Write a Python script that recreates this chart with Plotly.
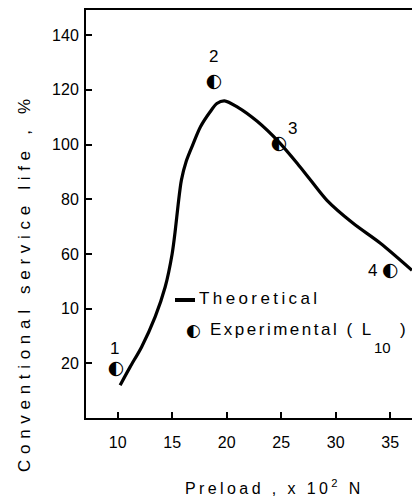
import plotly.graph_objects as go

# ---- data ----
curve_x = [10.23, 11.15, 12.2, 13.44, 14.36, 15.0, 15.3, 15.55, 15.85, 16.3, 16.9,
           17.6, 18.49, 19.1, 19.8, 21.0, 22.8, 24.8, 26.5, 27.6, 29.2, 31.6, 34.1, 37.0]
curve_y = [12, 18.7, 26, 37, 47.9, 60, 69, 78, 87, 94, 100,
           106.5, 112, 115, 116, 113.7, 108.5, 100.9, 93, 87.5, 79.6, 71.2, 63.9, 54]
exp_x = [9.86, 18.85, 24.8, 35.0]
exp_y = [17.7, 122.9, 100.1, 53.8]
exp_labels = ["1", "2", "3", "4"]
x_ticks = [10, 15, 20, 25, 30, 35]
y_ticks = [20, 40, 60, 80, 100, 120, 140]
y_ticktext = ["20", "10", "60", "80", "100", "120", "140"]

W, H = 412, 500
L, R, T, B = 86, 0, 10, 82
PW, PH = W - L - R, H - T - B


def px(x):
    return (x - L) / PW


def py(y):
    return (H - B - y) / PH


FONT = "Liberation Sans, Arial, sans-serif"

fig = go.Figure()
fig.add_trace(go.Scatter(x=curve_x, y=curve_y, mode="lines",
                         line=dict(color="black", width=3.2, shape="spline", smoothing=0.8),
                         showlegend=False, hoverinfo="skip"))
fig.add_trace(go.Scatter(x=exp_x, y=exp_y, mode="text", text=["\u25d0"] * len(exp_x),
                         textposition="middle center",
                         textfont=dict(family="DejaVu Sans", size=19, color="black"),
                         showlegend=False, hoverinfo="skip"))

offsets = [(-2, 21), (-1, 25), (14, 16), (-18, 0)]
for xv, yv, lab, (dx, dy) in zip(exp_x, exp_y, exp_labels, offsets):
    fig.add_annotation(x=xv, y=yv, xref="x", yref="y", text=lab, showarrow=False,
                       xshift=dx, yshift=dy, font=dict(family=FONT, size=17, color="black"))

# legend (drawn manually)
fig.add_shape(type="line", xref="paper", yref="paper", x0=px(175), x1=px(195), y0=py(300), y1=py(300),
              line=dict(color="black", width=4))
fig.add_annotation(xref="paper", yref="paper", x=px(197), y=py(298), xanchor="left", yanchor="middle",
                   text="<span style='letter-spacing:3.4px'>Theoretical</span>", showarrow=False,
                   font=dict(family=FONT, size=17, color="black"))
fig.add_annotation(xref="paper", yref="paper", x=px(193), y=py(330), xanchor="center", yanchor="middle",
                   text="\u25d0", showarrow=False,
                   font=dict(family="DejaVu Sans", size=17, color="black"))
fig.add_annotation(xref="paper", yref="paper", x=px(208), y=py(329), xanchor="left", yanchor="middle",
                   text="<span style='letter-spacing:2.5px'>Experimental ( L</span>", showarrow=False,
                   font=dict(family=FONT, size=17, color="black"))
fig.add_annotation(xref="paper", yref="paper", x=px(403), y=py(329), xanchor="center", yanchor="middle",
                   text=")", showarrow=False, font=dict(family=FONT, size=17, color="black"))
fig.add_annotation(xref="paper", yref="paper", x=px(382), y=py(347), xanchor="center", yanchor="middle",
                   text="10", showarrow=False, font=dict(family=FONT, size=15, color="black"))

# axis titles
fig.add_annotation(xref="paper", yref="paper", x=px(24), y=py(283), xanchor="center", yanchor="middle",
                   textangle=-90, showarrow=False,
                   text="<span style='letter-spacing:5.7px'>Conventional service life , %</span>",
                   font=dict(family=FONT, size=17, color="black"))
fig.add_annotation(xref="paper", yref="paper", x=px(274), y=py(487), xanchor="center", yanchor="middle",
                   showarrow=False,
                   text="<span style='letter-spacing:3.4px'>Preload , x 10<sup>2</sup> N</span>",
                   font=dict(family=FONT, size=16, color="black"))

fig.update_xaxes(range=[7.1, 37.0], tickvals=x_ticks, ticks="inside", ticklen=6, tickwidth=1.5,
                 tickcolor="black", showline=True, linecolor="black", linewidth=2, mirror=True,
                 showgrid=False, zeroline=False, ticklabelstandoff=9,
                 tickfont=dict(family=FONT, size=16, color="black"))
fig.update_yaxes(range=[0, 149.2], tickvals=y_ticks, ticktext=y_ticktext, ticks="inside", ticklen=6,
                 tickwidth=1.5, tickcolor="black", showline=True, linecolor="black", linewidth=2,
                 mirror=False, showgrid=False, zeroline=False, ticklabelstandoff=2,
                 tickfont=dict(family=FONT, size=16, color="black"))
fig.update_layout(width=W, height=H, margin=dict(l=L, r=R, t=T, b=B, pad=0),
                  plot_bgcolor="white", paper_bgcolor="white", showlegend=False)
fig.write_html("out.html", config={"displayModeBar": False},
               post_script="document.body.style.margin='0';")
